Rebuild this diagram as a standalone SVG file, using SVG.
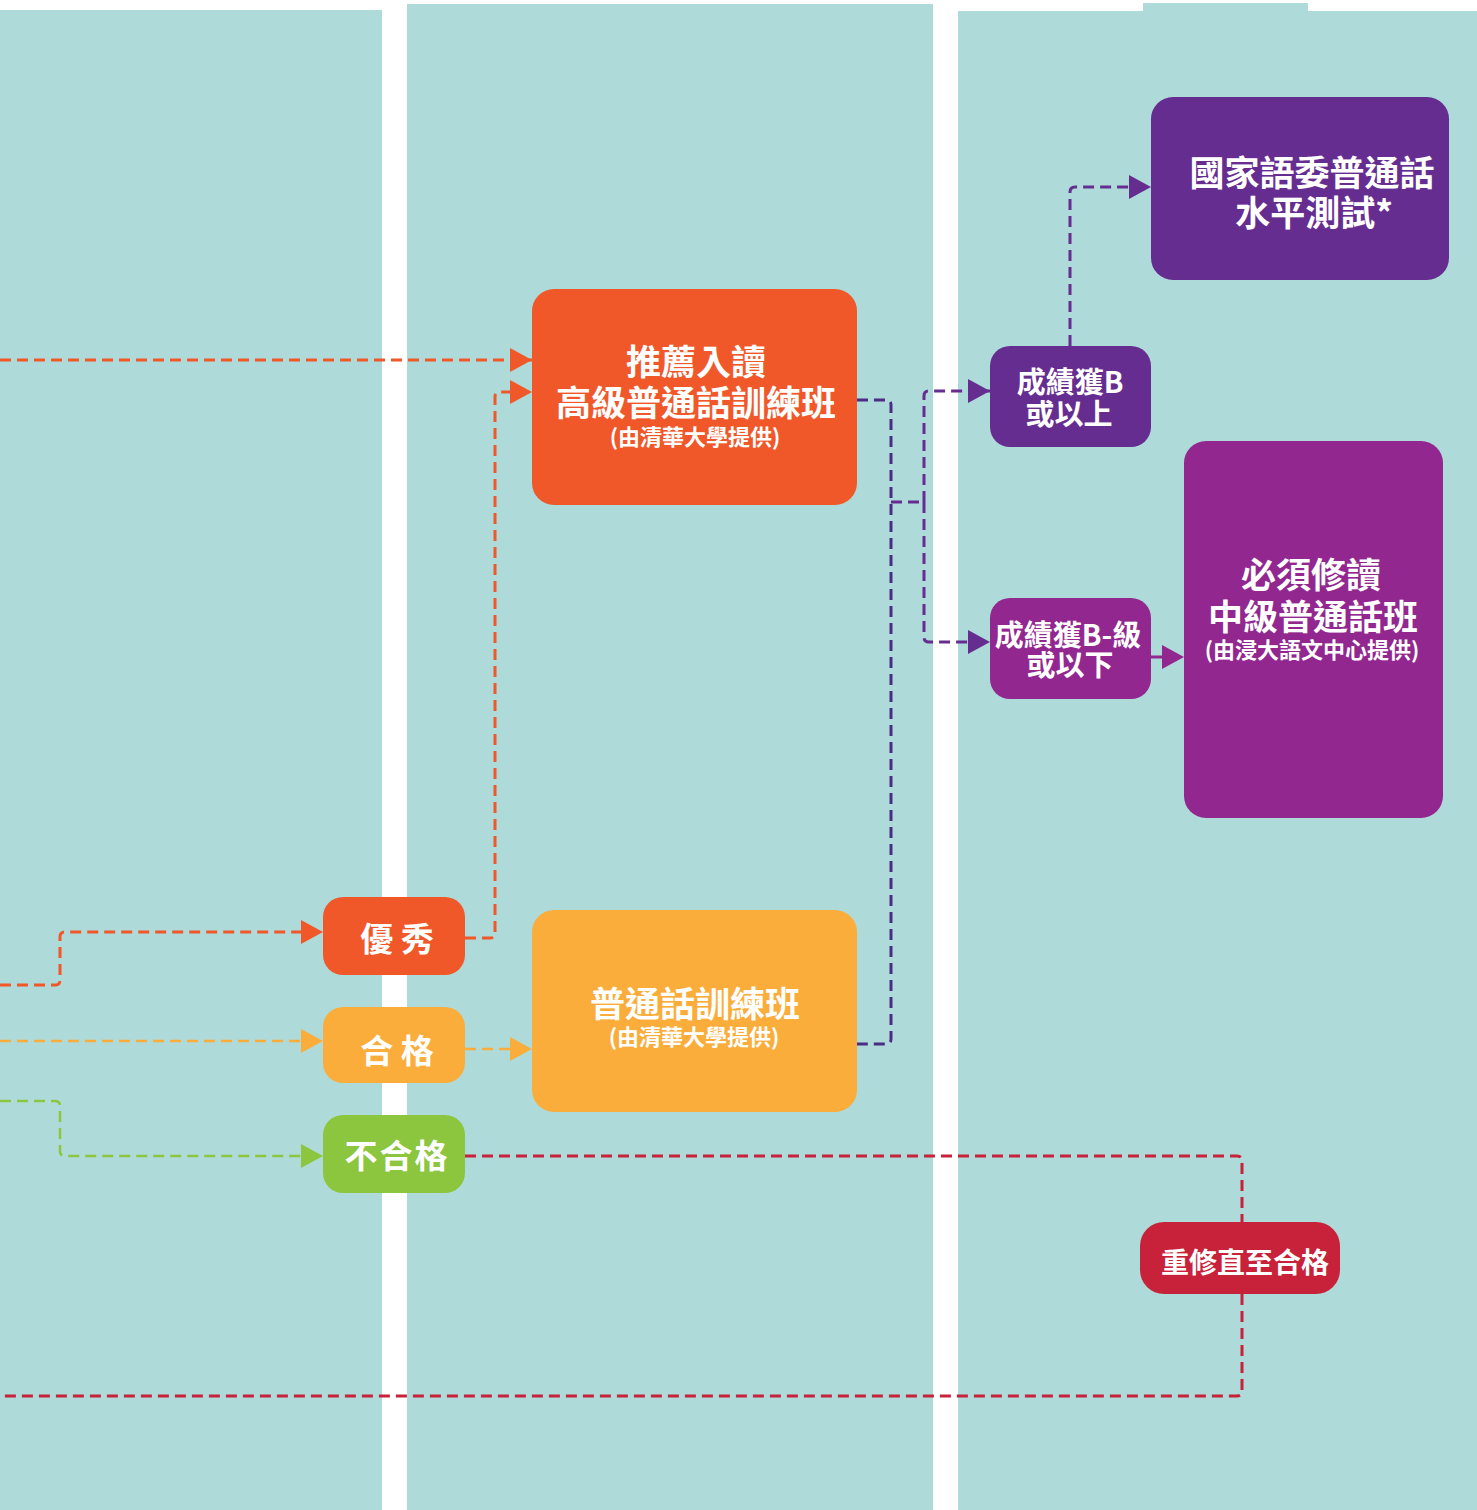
<svg xmlns="http://www.w3.org/2000/svg" width="1477" height="1510" viewBox="0 0 1477 1510">
<style>
.lane{fill:#aedbd9}
.t{font-family:"Noto Sans CJK TC","Noto Sans CJK SC",sans-serif;font-weight:700;fill:#ffffff;text-anchor:middle}
.c{fill:none;stroke-width:3;stroke-dasharray:11 6;stroke-linejoin:round}
.red{stroke:#f0582a}
.org{stroke:#fbad3b;stroke-width:2.5}
.grn{stroke:#8cc63f;stroke-width:2.5}
.crm{stroke:#c8223a}
.dp{stroke:#4a2c86}
.pp{stroke:#662d91}
.mp{stroke:#92278f}
</style>
<defs>
<marker id="aRed" markerUnits="userSpaceOnUse" markerWidth="22" markerHeight="24" refX="22" refY="12" orient="auto"><path d="M0,0 L22,12 L0,24 z" fill="#f0582a"/></marker>
<marker id="aOrg" markerUnits="userSpaceOnUse" markerWidth="22" markerHeight="24" refX="22" refY="12" orient="auto"><path d="M0,0 L22,12 L0,24 z" fill="#fbad3b"/></marker>
<marker id="aGrn" markerUnits="userSpaceOnUse" markerWidth="22" markerHeight="24" refX="22" refY="12" orient="auto"><path d="M0,0 L22,12 L0,24 z" fill="#8cc63f"/></marker>
<marker id="aPP" markerUnits="userSpaceOnUse" markerWidth="22" markerHeight="24" refX="22" refY="12" orient="auto"><path d="M0,0 L22,12 L0,24 z" fill="#662d91"/></marker>
<marker id="aMP" markerUnits="userSpaceOnUse" markerWidth="22" markerHeight="24" refX="22" refY="12" orient="auto"><path d="M0,0 L22,12 L0,24 z" fill="#92278f"/></marker>
</defs>
<rect width="1477" height="1510" fill="#ffffff"/>
<g id="lanes">
<rect class="lane" x="0" y="10" width="382" height="1500"/>
<rect class="lane" x="407" y="4" width="526" height="1506"/>
<rect class="lane" x="958" y="11" width="519" height="1499"/>
<rect class="lane" x="1143" y="3" width="165" height="10"/>
</g>
<g id="connectors">
<path class="c red" d="M0,360 H532" marker-end="url(#aRed)"/>
<path class="c red" d="M465,938 H490 Q495,938 495,933 V397 Q495,392 500,392 H532" marker-end="url(#aRed)"/>
<path class="c red" d="M0,985 H55 Q60,985 60,980 V937 Q60,932 65,932 H323" marker-end="url(#aRed)"/>
<path class="c org" d="M0,1041 H323" marker-end="url(#aOrg)"/>
<path class="c org" d="M465,1049 H532" marker-end="url(#aOrg)"/>
<path class="c grn" d="M0,1101 H55 Q60,1101 60,1106 V1151 Q60,1156 65,1156 H323" marker-end="url(#aGrn)"/>
<path class="c crm" d="M465,1156 H1237 Q1242,1156 1242,1161 V1222"/>
<path class="c crm" d="M1242,1294 V1391 Q1242,1396 1237,1396 H0"/>
<path class="c dp" d="M857,400 H886 Q891,400 891,405 V1039 Q891,1044 886,1044 H857"/>
<path class="c pp" d="M891,502 H924"/>
<path class="c pp" d="M924,502 V396 Q924,391 929,391 H990" marker-end="url(#aPP)"/>
<path class="c pp" d="M924,502 V637 Q924,642 929,642 H990" marker-end="url(#aPP)"/>
<path class="c pp" d="M1070,346 V192 Q1070,187 1075,187 H1151" marker-end="url(#aPP)"/>
<path class="c mp" d="M1151,657 H1184" marker-end="url(#aMP)"/>
</g>
<g id="n-advanced">
<rect x="532" y="289" width="325" height="216" rx="22" fill="#f0582a"/>
<text class="t" font-size="35"><tspan x="696" y="375">推薦入讀</tspan><tspan x="696" y="416">高級普通話訓練班</tspan><tspan x="695" y="445" font-size="22">(由清華大學提供)</tspan></text>
</g>
<g id="n-basic">
<rect x="532" y="910" width="325" height="202" rx="22" fill="#fbad3b"/>
<text class="t" font-size="35"><tspan x="695" y="1017">普通話訓練班</tspan><tspan x="694" y="1045" font-size="22">(由清華大學提供)</tspan></text>
</g>
<g id="n-psc">
<rect x="1151" y="97" width="298" height="183" rx="22" fill="#662d91"/>
<text class="t" font-size="35"><tspan x="1312" y="186">國家語委普通話</tspan><tspan x="1314" y="226">水平測試*</tspan></text>
</g>
<g id="n-above">
<rect x="990" y="346" width="161" height="101" rx="20" fill="#662d91"/>
<text class="t" font-size="29"><tspan x="1070" y="393">成績獲B</tspan><tspan x="1069" y="425">或以上</tspan></text>
</g>
<g id="n-below">
<rect x="990" y="598" width="161" height="101" rx="20" fill="#92278f"/>
<text class="t" font-size="29"><tspan x="1068" y="646">成績獲B-級</tspan><tspan x="1070" y="676">或以下</tspan></text>
</g>
<g id="n-intermediate">
<rect x="1184" y="441" width="259" height="377" rx="22" fill="#92278f"/>
<text class="t" font-size="35"><tspan x="1311" y="588">必須修讀</tspan><tspan x="1313" y="630">中級普通話班</tspan><tspan x="1312" y="658" font-size="22">(由浸大語文中心提供)</tspan></text>
</g>
<g id="n-excellent">
<rect x="323" y="897" width="142" height="78" rx="20" fill="#f0582a"/>
<text class="t" x="397" y="951" font-size="33">優 秀</text>
</g>
<g id="n-pass">
<rect x="323" y="1007" width="142" height="76" rx="20" fill="#fbad3b"/>
<text class="t" x="397" y="1063" font-size="33">合 格</text>
</g>
<g id="n-fail">
<rect x="323" y="1115" width="142" height="78" rx="20" fill="#8cc63f"/>
<text class="t" x="397" y="1168" font-size="33" letter-spacing="2">不合格</text>
</g>
<g id="n-retake">
<rect x="1140" y="1222" width="200" height="72" rx="24" fill="#c8223a"/>
<text class="t" x="1245" y="1273" font-size="28">重修直至合格</text>
</g>
</svg>
